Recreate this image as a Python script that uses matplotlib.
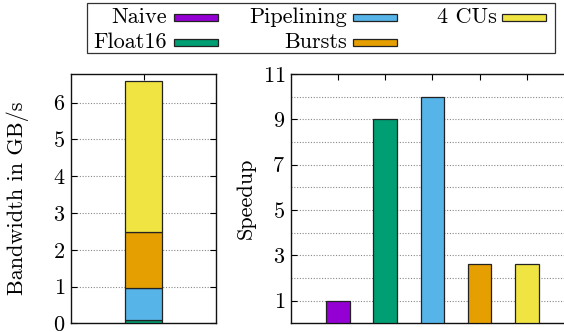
import numpy as np
import matplotlib
matplotlib.use("Agg")
import matplotlib.pyplot as plt
from matplotlib.patches import Rectangle

plt.rcParams['font.family'] = ['cmr10', 'DejaVu Serif']
plt.rcParams['axes.formatter.use_mathtext'] = True
plt.rcParams['mathtext.fontset'] = 'cm'

# data
names = ["Naive", "Float16", "Pipelining", "Bursts", "4 CUs"]
colors = ["#9400D3", "#009E73", "#56B4E9", "#E69F00", "#F0E442"]
bandwidth = [0.01, 0.09, 0.87, 1.52, 4.09]   # stacked increments in GB/s
speedup = [1.0, 9.0, 10.0, 2.6, 2.6]

W, H = 564, 332
fig = plt.figure(figsize=(W / 100, H / 100), dpi=100)

def box(x0, y0, x1, y1):
    # pixel box (from top-left) -> figure fraction rect
    return [x0 / W, 1 - y1 / H, (x1 - x0) / W, (y1 - y0) / H]

edge = "#222222"
grid_kw = dict(color="#888888", linestyle=(0, (1, 1.5)), linewidth=0.8)
fs = 16

# left: stacked bandwidth
ax1 = fig.add_axes(box(71, 74, 216, 323.3))
bottom = 0.0
for v, c in zip(bandwidth, colors):
    ax1.bar(0, v, width=0.5, bottom=bottom, color=c, edgecolor=edge, linewidth=0.9, zorder=3)
    bottom += v
ax1.set_xlim(-1, 1)
ax1.set_ylim(0, 6.78)
ax1.set_yticks(np.arange(0, 7))
ax1.set_xticks([0])
ax1.set_xticklabels([])
ax1.set_ylabel("Bandwidth in GB/s", fontsize=fs, va="center")
ax1.yaxis.set_label_coords((18 - 71) / 145, 0.5)
ax1.yaxis.grid(True, **grid_kw)
ax1.set_axisbelow(True)

# right: speedup
ax2 = fig.add_axes(box(290.7, 74, 290.7 + 6 * 47.2, 323.3))
x = np.arange(1, len(names) + 1)
ax2.bar(x, speedup, width=0.5, color=colors, edgecolor=edge, linewidth=0.9, zorder=3)
ax2.set_xlim(0, 6)
ax2.set_ylim(0, 11)
ax2.set_yticks([1, 3, 5, 7, 9, 11])
ax2.set_yticks(np.arange(0, 11), minor=True)
ax2.set_xticks(x)
ax2.set_xticklabels([])
ax2.set_ylabel("Speedup", fontsize=fs, va="center")
ax2.yaxis.set_label_coords((246 - 290.7) / 283.2, 0.5)
ax2.yaxis.grid(True, which="both", **grid_kw)
ax2.set_axisbelow(True)

for ax in (ax1, ax2):
    ax.tick_params(axis="both", which="both", direction="in", top=True, right=True,
                   labelsize=fs, length=4, width=0.8)
    ax.tick_params(axis="y", which="minor", length=0)
    ax.tick_params(axis="y", pad=4)
    for s in ax.spines.values():
        s.set_linewidth(1.0)
        s.set_color("#111111")

# gnuplot-style legend box: right-aligned text then swatch
fig.patches.append(Rectangle((87.3 / W, 1 - 53 / H), (555 - 87.3) / W, 50 / H,
                             transform=fig.transFigure, fill=False,
                             edgecolor="#333333", linewidth=0.9))
text_right = [167, 167, 346.7, 346.7, 496.7]
swatch_left = [174.3, 174.3, 352.7, 352.7, 502.3]
row_y = [17.5, 42.5, 17.5, 42.5, 17.5]
for n, c, tx, sx, ry in zip(names, colors, text_right, swatch_left, row_y):
    fig.text(tx / W, 1 - ry / H, n, ha="right", va="center", fontsize=fs)
    fig.patches.append(Rectangle((sx / W, 1 - (ry + 3.5) / H), 44 / W, 7 / H,
                                 transform=fig.transFigure, facecolor=c,
                                 edgecolor=edge, linewidth=0.9))

fig.savefig("out.png", dpi=100)
